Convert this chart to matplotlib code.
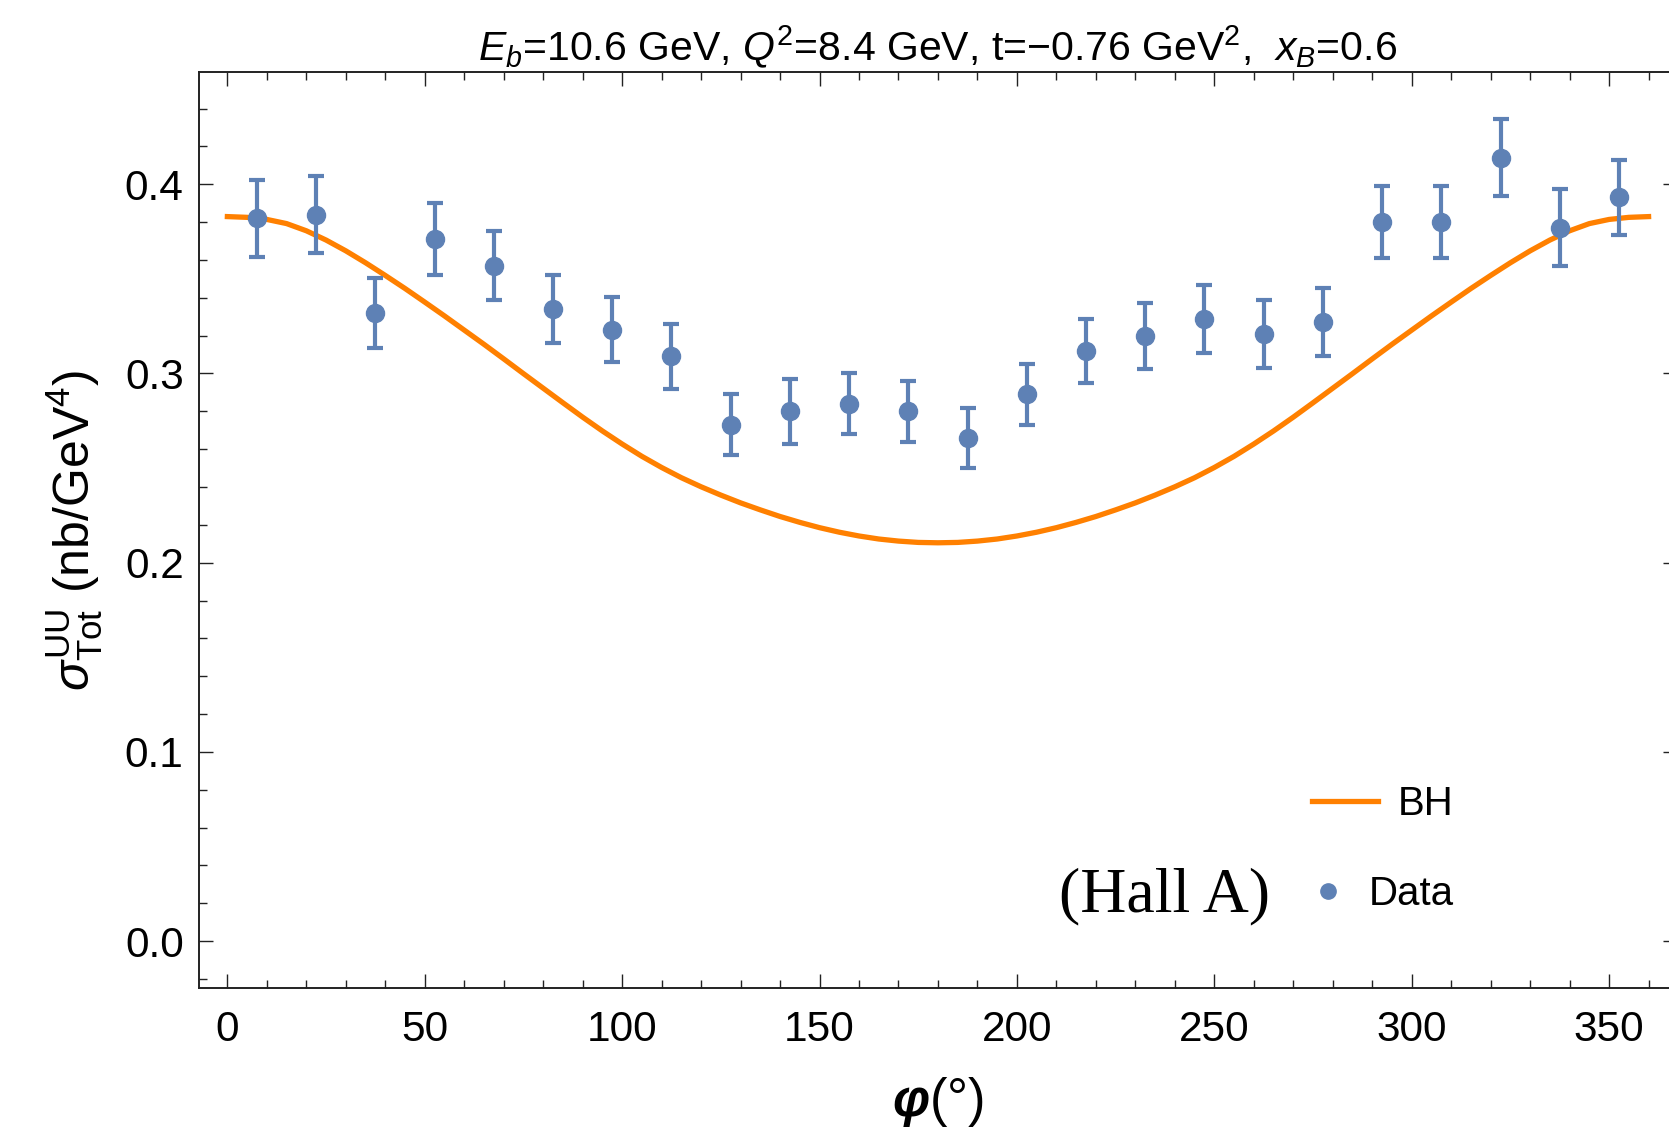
import matplotlib
matplotlib.use("Agg")
import matplotlib.pyplot as plt
from matplotlib.ticker import MultipleLocator, FormatStrFormatter
from matplotlib.lines import Line2D

# measured cross-section points (phi in degrees)
phi_data = [7.5, 22.5, 37.5, 52.5, 67.5, 82.5, 97.5, 112.5, 127.5, 142.5, 157.5, 172.5,
            187.5, 202.5, 217.5, 232.5, 247.5, 262.5, 277.5, 292.5, 307.5, 322.5, 337.5, 352.5]
sigma_data = [0.382, 0.384, 0.332, 0.371, 0.357, 0.334, 0.323, 0.309, 0.273, 0.280, 0.284, 0.280,
              0.266, 0.289, 0.312, 0.320, 0.329, 0.321, 0.327, 0.380, 0.380, 0.414, 0.377, 0.393]
sigma_err = [0.0205, 0.0205, 0.0183, 0.0192, 0.0183, 0.018, 0.0172, 0.0172, 0.016, 0.0173, 0.016, 0.016,
             0.016, 0.016, 0.017, 0.0174, 0.018, 0.018, 0.018, 0.019, 0.019, 0.0203, 0.0203, 0.020]

# Bethe-Heitler curve, every 5 degrees
phi_bh = [0, 5, 10, 15, 20, 25, 30, 35, 40, 45, 50, 55, 60, 65, 70, 75, 80, 85, 90,
          95, 100, 105, 110, 115, 120, 125, 130, 135, 140, 145, 150, 155, 160, 165, 170, 175, 180,
          185, 190, 195, 200, 205, 210, 215, 220, 225, 230, 235, 240, 245, 250, 255, 260, 265, 270,
          275, 280, 285, 290, 295, 300, 305, 310, 315, 320, 325, 330, 335, 340, 345, 350, 355, 360]
sigma_bh = [0.3829, 0.3825, 0.3814, 0.3792, 0.3754, 0.3705, 0.3648, 0.3585, 0.3518, 0.3449,
            0.3377, 0.3304, 0.3229, 0.3154, 0.3077, 0.2999, 0.2922, 0.2845, 0.2769, 0.2696,
            0.2627, 0.2562, 0.2503, 0.2449, 0.2401, 0.2357, 0.2316, 0.2279, 0.2244, 0.2213,
            0.2185, 0.2161, 0.2141, 0.2125, 0.2114, 0.2107, 0.2105,
            0.2107, 0.2114, 0.2125, 0.2141, 0.2161, 0.2185, 0.2213, 0.2244, 0.2279, 0.2316,
            0.2357, 0.2401, 0.2449, 0.2503, 0.2562, 0.2627, 0.2696, 0.2769, 0.2845, 0.2922,
            0.2999, 0.3077, 0.3154, 0.3229, 0.3304, 0.3377, 0.3449, 0.3518, 0.3585, 0.3648,
            0.3705, 0.3754, 0.3792, 0.3814, 0.3825, 0.3829]

plt.rcParams['font.family'] = ['Liberation Sans', 'DejaVu Sans']
plt.rcParams['mathtext.fontset'] = 'custom'
plt.rcParams['mathtext.rm'] = 'Liberation Sans'
plt.rcParams['mathtext.it'] = 'Liberation Sans:italic'
plt.rcParams['mathtext.bf'] = 'Liberation Sans:italic:bold'

fig = plt.figure(figsize=(16.69, 11.38), dpi=100)
# right edge of the frame falls just outside the picture, as in the original
ax = fig.add_axes([0.1192, 0.1318, 0.8856, 0.8049])

blue = '#5E81B5'
orange = '#FF8000'

ax.plot(phi_bh, sigma_bh, color=orange, lw=3.8, zorder=2)
ax.errorbar(phi_data, sigma_data, yerr=sigma_err, fmt='o', color=blue, ms=13,
            elinewidth=3.0, capsize=6, capthick=3.0, zorder=3)

ax.set_xlim(-7.2, 367.2)
ax.set_ylim(-0.0248, 0.4593)
ax.xaxis.set_major_locator(MultipleLocator(50))
ax.xaxis.set_minor_locator(MultipleLocator(10))
ax.yaxis.set_major_locator(MultipleLocator(0.1))
ax.yaxis.set_minor_locator(MultipleLocator(0.02))
ax.yaxis.set_major_formatter(FormatStrFormatter('%.1f'))

ax.tick_params(which='both', direction='in', top=True, right=True, width=1.0, color='#222222')
ax.tick_params(which='major', length=10)
ax.tick_params(which='minor', length=5.5)
ax.tick_params(axis='x', which='major', labelsize=30.5, pad=16)
ax.tick_params(axis='y', which='major', labelsize=30.5, pad=11)
for sp in ax.spines.values():
    sp.set_linewidth(1.4)
    sp.set_color('#222222')

ax.set_title(r'$E_b$=10.6 GeV, $Q^2$=8.4 GeV, t=$-$0.76 GeV$^2$,  $x_B$=0.6',
             fontsize=29.5, pad=8)
ax.set_xlabel(r'$\mathbf{\varphi}$(°)', fontsize=38, labelpad=18)
ax.set_ylabel(r'$\sigma^{\rm UU}_{\rm Tot}$ (nb/GeV$^4$)', fontsize=36, labelpad=14)

ax.text(0.6535, 0.100, '(Hall A)', transform=ax.transAxes, fontsize=46,
        family='Liberation Serif', ha='center', va='center')

# two separate legend entries, placed like the original
bh_handle = Line2D([], [], color=orange, lw=3.8)
data_handle = Line2D([], [], color=blue, marker='o', ls='none', ms=11)
leg1 = ax.legend([bh_handle], ['BH'], loc='center left', bbox_to_anchor=(0.753, 0.201),
                 frameon=False, fontsize=29, handlelength=1.64, handletextpad=0.5,
                 borderpad=0, borderaxespad=0)
ax.add_artist(leg1)
ax.legend([data_handle], ['Data'], loc='center left', bbox_to_anchor=(0.7503, 0.1026),
          frameon=False, fontsize=29, handlelength=1.0, handletextpad=0.5,
          borderpad=0, borderaxespad=0)

fig.savefig('out.png', dpi=100, facecolor='white')
